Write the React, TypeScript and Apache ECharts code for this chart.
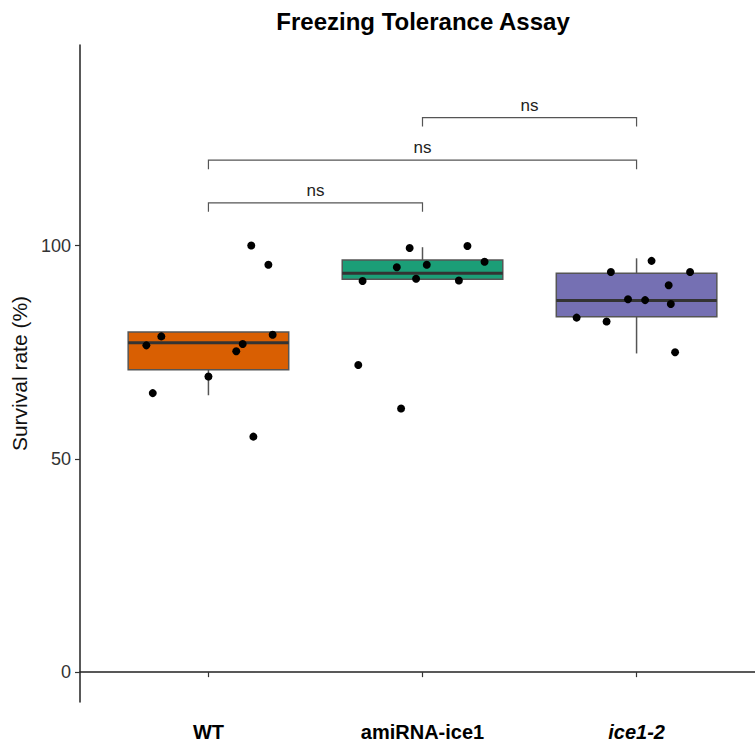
import React, { useEffect, useRef } from 'react';
import * as echarts from 'echarts';

const categories = ['WT', 'amiRNA-ice1', 'ice1-2'];
const italicCategory = [false, false, true];
const boxColors = ['#D95F02', '#1B9E77', '#7570B3'];

// box statistics: [lower whisker, Q1, median, Q3, upper whisker]
const wtBox = [64.9, 70.9, 77.2, 79.7, 79.7];
const amiBox = [92.1, 92.1, 93.5, 96.6, 99.6];
const iceBox = [74.7, 83.3, 87.1, 93.5, 97.0];

// jittered points: horizontal offset from category centre, and survival rate
const wtJitter = [0.2, 0.28, 0.3, -0.22, -0.29, 0.16, 0.13, 0.0, -0.26, 0.21];
const wtValues = [100.0, 95.5, 79.1, 78.7, 76.6, 76.9, 75.2, 69.3, 65.4, 55.2];
const amiJitter = [-0.06, 0.21, 0.29, 0.02, -0.12, -0.28, -0.03, 0.17, -0.3, -0.1];
const amiValues = [99.4, 99.9, 96.2, 95.5, 94.9, 91.7, 92.2, 91.8, 72.0, 61.8];
const iceJitter = [0.07, -0.12, 0.25, 0.15, -0.04, 0.04, 0.16, -0.28, -0.14, 0.18];
const iceValues = [96.4, 93.8, 93.8, 90.7, 87.4, 87.2, 86.3, 83.1, 82.2, 75.0];

// significance brackets
const bracketStart = [1, 1, 2];
const bracketEnd = [2, 3, 3];
const bracketHeight = [110, 120, 130];
const bracketLabel = ['ns', 'ns', 'ns'];

const yTicks = [0, 50, 100];
const xTicks = [1, 2, 3];

const FONT = '"Liberation Sans", Arial, Helvetica, sans-serif';

export default function App() {
  const ref = useRef<HTMLDivElement>(null);

  useEffect(() => {
    if (!ref.current) return;
    const chart = echarts.init(ref.current, undefined, { renderer: 'svg' });

    const boxes = [wtBox, amiBox, iceBox];
    const boxData = boxes.map((b, i) => [xTicks[i], b[0], b[1], b[2], b[3], b[4], i]);

    const jitters = [wtJitter, amiJitter, iceJitter];
    const values = [wtValues, amiValues, iceValues];
    const pointData: number[][] = [];
    values.forEach((vals, g) => {
      vals.forEach((v, k) => pointData.push([xTicks[g] + jitters[g][k], v]));
    });

    const bracketData = bracketStart.map((s, i) => [s, bracketEnd[i], bracketHeight[i], i]);

    chart.setOption({
      animation: false,
      backgroundColor: '#ffffff',
      title: {
        text: 'Freezing Tolerance Assay',
        left: 423,
        top: 9,
        padding: 0,
        textAlign: 'center',
        textStyle: { fontFamily: FONT, fontSize: 24, fontWeight: 'bold', color: '#000' },
      },
      grid: { left: 80, right: 10, top: 45, bottom: 40 },
      xAxis: {
        type: 'value',
        min: 0.4,
        max: 3.6,
        splitLine: { show: false },
        axisLine: { show: true, lineStyle: { color: '#222', width: 1.5 } },
        axisTick: { show: true, customValues: xTicks, length: 5, lineStyle: { color: '#333', width: 1.2 } },
        axisLabel: {
          customValues: xTicks,
          margin: 20,
          formatter: (v: number) => {
            const i = Math.round(v) - 1;
            return italicCategory[i] ? `{it|${categories[i]}}` : `{b|${categories[i]}}`;
          },
          rich: {
            b: { fontFamily: FONT, fontSize: 20, fontWeight: 'bold', color: '#000' },
            it: { fontFamily: FONT, fontSize: 20, fontWeight: 'bold', fontStyle: 'italic', color: '#000' },
          },
        },
      },
      yAxis: {
        type: 'value',
        min: -7,
        max: 147,
        name: 'Survival rate (%)',
        nameLocation: 'middle',
        nameGap: 45,
        nameTextStyle: { fontFamily: FONT, fontSize: 21, color: '#111' },
        splitLine: { show: false },
        axisLine: { show: true, lineStyle: { color: '#222', width: 1.5 } },
        axisTick: { show: true, customValues: yTicks, length: 5, lineStyle: { color: '#333', width: 1.2 } },
        axisLabel: {
          customValues: yTicks,
          margin: 9,
          fontFamily: FONT,
          fontSize: 18,
          color: '#333',
        },
      },
      series: [
        {
          type: 'custom',
          name: 'boxes',
          data: boxData,
          encode: { x: 0, y: [1, 2, 3, 4, 5] },
          renderItem: (_params: any, api: any) => {
            const x = api.value(0);
            const low = api.value(1);
            const q1 = api.value(2);
            const med = api.value(3);
            const q3 = api.value(4);
            const high = api.value(5);
            const ci = api.value(6);
            const pC = api.coord([x, med]);
            const pL = api.coord([x - 0.375, q3]);
            const pR = api.coord([x + 0.375, q1]);
            const pLow = api.coord([x, low]);
            const pHigh = api.coord([x, high]);
            const cx = pC[0];
            const stroke = '#555555';
            return {
              type: 'group',
              children: [
                { type: 'line', shape: { x1: cx, y1: pHigh[1], x2: cx, y2: pL[1] }, style: { stroke, lineWidth: 1.5 } },
                { type: 'line', shape: { x1: cx, y1: pR[1], x2: cx, y2: pLow[1] }, style: { stroke, lineWidth: 1.5 } },
                {
                  type: 'rect',
                  shape: { x: pL[0], y: pL[1], width: pR[0] - pL[0], height: pR[1] - pL[1] },
                  style: { fill: boxColors[ci], stroke, lineWidth: 1.5 },
                },
                { type: 'line', shape: { x1: pL[0], y1: pC[1], x2: pR[0], y2: pC[1] }, style: { stroke: '#333333', lineWidth: 3 } },
              ],
            };
          },
          z: 2,
        },
        {
          type: 'scatter',
          name: 'points',
          data: pointData,
          symbol: 'circle',
          symbolSize: 8,
          itemStyle: { color: '#000', opacity: 1 },
          z: 3,
        },
        {
          type: 'custom',
          name: 'brackets',
          data: bracketData,
          encode: { x: [0, 1], y: 2 },
          renderItem: (_params: any, api: any) => {
            const x1 = api.value(0);
            const x2 = api.value(1);
            const y = api.value(2);
            const idx = api.value(3);
            const p1 = api.coord([x1, y]);
            const p2 = api.coord([x2, y]);
            const pd = api.coord([x1, y - 2.1]);
            const stroke = '#555555';
            return {
              type: 'group',
              children: [
                {
                  type: 'polyline',
                  shape: { points: [[p1[0], pd[1]], [p1[0], p1[1]], [p2[0], p2[1]], [p2[0], pd[1]]] },
                  style: { stroke, lineWidth: 1.2, fill: 'none' },
                },
                {
                  type: 'text',
                  x: (p1[0] + p2[0]) / 2,
                  y: p1[1] - 4,
                  style: {
                    text: bracketLabel[idx],
                    font: `17px ${FONT}`,
                    fill: '#222',
                    align: 'center',
                    verticalAlign: 'bottom',
                    textAlign: 'center',
                    textVerticalAlign: 'bottom',
                  },
                },
              ],
            };
          },
          z: 4,
        },
      ],
    });

    return () => chart.dispose();
  }, []);

  return (
    <div style={{ position: 'fixed', left: 0, top: 0, width: 755, height: 742, overflow: 'hidden', background: '#fff' }}>
      <div ref={ref} style={{ width: 775, height: 742 }} />
    </div>
  );
}
